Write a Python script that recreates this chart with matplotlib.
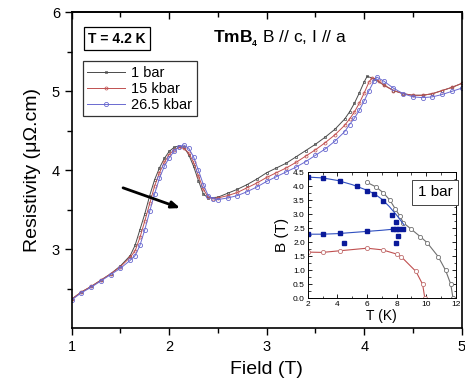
import matplotlib
matplotlib.use('Agg')
import matplotlib.pyplot as plt

plt.rcParams['font.family'] = ['Liberation Sans', 'DejaVu Sans']
plt.rcParams['mathtext.fontset'] = 'custom'
plt.rcParams['mathtext.rm'] = 'Liberation Sans'
plt.rcParams['mathtext.bf'] = 'Liberation Sans:bold'

# main panel: resistivity vs field at 4.2 K
field_1bar = [1.0, 1.1, 1.2, 1.3, 1.4, 1.5, 1.6, 1.65, 1.7, 1.75, 1.8, 1.85, 1.9, 1.95,
              2.0, 2.05, 2.1, 2.15, 2.2, 2.25, 2.3, 2.35, 2.4, 2.5, 2.6, 2.7, 2.8, 2.9,
              3.0, 3.1, 3.2, 3.3, 3.4, 3.5, 3.6, 3.7, 3.8, 3.85, 3.9, 3.95, 4.0, 4.03,
              4.1, 4.2, 4.3, 4.4, 4.5, 4.6, 4.7, 4.8, 4.9, 5.0]
rho_1bar = [2.37, 2.46, 2.53, 2.61, 2.69, 2.79, 2.92, 3.05, 3.25, 3.45, 3.68, 3.88, 4.03, 4.15,
            4.24, 4.29, 4.31, 4.29, 4.20, 4.05, 3.87, 3.70, 3.65, 3.66, 3.71, 3.76, 3.82, 3.89,
            3.97, 4.03, 4.09, 4.17, 4.25, 4.33, 4.42, 4.52, 4.65, 4.74, 4.85, 4.98, 5.12, 5.19,
            5.16, 5.08, 5.01, 4.97, 4.95, 4.95, 4.97, 5.01, 5.05, 5.10]

field_15kbar = [1.0, 1.1, 1.2, 1.3, 1.4, 1.5, 1.6, 1.65, 1.7, 1.75, 1.8, 1.85, 1.9, 1.95,
                2.0, 2.05, 2.1, 2.15, 2.2, 2.25, 2.3, 2.35, 2.4, 2.45, 2.5, 2.6, 2.7, 2.8, 2.9,
                3.0, 3.1, 3.2, 3.3, 3.4, 3.5, 3.6, 3.7, 3.8, 3.85, 3.9, 3.95, 4.0, 4.05, 4.08,
                4.15, 4.2, 4.3, 4.4, 4.5, 4.6, 4.7, 4.8, 4.9, 5.0]
rho_15kbar = [2.37, 2.46, 2.53, 2.61, 2.69, 2.78, 2.90, 2.98, 3.15, 3.36, 3.58, 3.80, 3.97, 4.10,
              4.20, 4.26, 4.29, 4.28, 4.22, 4.10, 3.93, 3.76, 3.66, 3.64, 3.65, 3.68, 3.72, 3.78, 3.84,
              3.91, 3.97, 4.03, 4.10, 4.18, 4.26, 4.35, 4.45, 4.57, 4.65, 4.74, 4.85, 4.98, 5.12, 5.17,
              5.13, 5.08, 5.01, 4.97, 4.95, 4.95, 4.97, 5.01, 5.05, 5.10]

field_26kbar = [1.0, 1.1, 1.2, 1.3, 1.4, 1.5, 1.6, 1.65, 1.7, 1.75, 1.8, 1.85, 1.9, 1.95,
                2.0, 2.05, 2.1, 2.15, 2.2, 2.25, 2.3, 2.35, 2.4, 2.45, 2.5, 2.6, 2.7, 2.8, 2.9,
                3.0, 3.1, 3.2, 3.3, 3.4, 3.5, 3.6, 3.7, 3.8, 3.85, 3.9, 3.95, 4.0, 4.05, 4.1,
                4.13, 4.2, 4.3, 4.4, 4.5, 4.6, 4.7, 4.8, 4.9, 5.0]
rho_26kbar = [2.36, 2.45, 2.52, 2.60, 2.68, 2.76, 2.86, 2.92, 3.05, 3.25, 3.48, 3.70, 3.90, 4.05,
              4.16, 4.24, 4.30, 4.32, 4.28, 4.17, 4.00, 3.82, 3.68, 3.64, 3.63, 3.65, 3.68, 3.73, 3.79,
              3.86, 3.92, 3.98, 4.04, 4.11, 4.19, 4.27, 4.37, 4.49, 4.58, 4.66, 4.76, 4.88, 5.01, 5.13,
              5.18, 5.13, 5.04, 4.97, 4.93, 4.92, 4.93, 4.96, 5.00, 5.04]

# inset: phase diagram at 1 bar
gray_T = [6.0, 6.6, 7.1, 7.55, 7.9, 8.2, 8.45, 9.0, 9.6, 10.05, 10.8, 11.3, 11.65, 11.8]
gray_B = [4.14, 3.98, 3.77, 3.50, 3.20, 2.95, 2.70, 2.46, 2.20, 1.99, 1.49, 1.00, 0.50, 0.0]

red_T = [2.0, 3.0, 4.2, 6.0, 7.05, 8.0, 8.3, 9.3, 9.75, 9.9]
red_B = [1.65, 1.64, 1.70, 1.79, 1.73, 1.58, 1.49, 0.96, 0.50, 0.0]

blue_pts_T = [2.0, 3.0, 4.2, 5.3, 6.0, 6.45, 7.07, 7.67, 7.97,
              2.0, 3.0, 4.2, 6.0, 7.74, 7.97, 8.19, 8.42,
              4.45, 8.08, 7.95]
blue_pts_B = [4.33, 4.28, 4.20, 4.02, 3.85, 3.74, 3.48, 2.98, 2.72,
              2.29, 2.29, 2.33, 2.40, 2.47, 2.47, 2.47, 2.47,
              1.99, 2.22, 1.99]

blue_upper_T = [2.0, 3.0, 4.0, 5.0, 6.0, 6.5, 7.0, 7.5, 8.0, 8.5]
blue_upper_B = [4.33, 4.30, 4.21, 4.06, 3.86, 3.73, 3.54, 3.28, 2.97, 2.62]
blue_mid_T = [2.0, 3.0, 4.0, 5.0, 6.0, 7.0, 8.0, 8.6]
blue_mid_B = [2.29, 2.29, 2.31, 2.35, 2.39, 2.43, 2.48, 2.53]

fig = plt.figure(figsize=(4.65, 3.83), dpi=100)
ax = fig.add_axes([0.1542, 0.1428, 0.8387, 0.825])

ax.plot(field_1bar, rho_1bar, color='#4a4a4a', lw=0.7, marker='s', ms=2.0,
        mfc='none', mew=0.5, label='1 bar')
ax.plot(field_15kbar, rho_15kbar, color='#c05050', lw=0.7, marker='o', ms=2.2,
        mfc='none', mew=0.5, label='15 kbar')
ax.plot(field_26kbar, rho_26kbar, color='#6a6ad0', lw=0.7, marker='o', ms=3.0,
        mfc='none', mew=0.6, label='26.5 kbar')

ax.set_xlim(1, 5)
ax.set_ylim(2, 6)
ax.set_xticks([1, 2, 3, 4, 5])
ax.set_xticks([1.5, 2.5, 3.5, 4.5], minor=True)
ax.set_yticks([3, 4, 5, 6])
ax.set_yticks([2.5, 3.5, 4.5, 5.5], minor=True)
ax.tick_params(which='both', direction='out', top=False, right=False, labelsize=10.5, width=1)
ax.tick_params(which='major', length=5)
ax.tick_params(which='minor', length=3.5)
for sp in ax.spines.values():
    sp.set_linewidth(1.2)

# top axis ticks point inward
top = ax.secondary_xaxis('top')
top.set_xticks([1, 2, 3, 4, 5])
top.set_xticks([1.5, 2.5, 3.5, 4.5], minor=True)
top.tick_params(which='both', direction='in', labeltop=False, width=1)
top.tick_params(which='major', length=5)
top.tick_params(which='minor', length=3.5)
top.spines['top'].set_linewidth(1.2)

ax.set_xlabel('Field (T)', fontsize=14, labelpad=5)
ax.set_ylabel('Resistivity (\u03bc\u03a9.cm)', fontsize=14, labelpad=8)

ax.text(0.116, 0.917, 'T = 4.2 K', transform=ax.transAxes, fontsize=10,
        fontweight='bold', ha='center', va='center',
        bbox=dict(boxstyle='square,pad=0.3', fc='white', ec='black', lw=0.9))
ax.text(0.362, 0.917, r'$\mathbf{TmB_{_4}}$ B // c, I // a', transform=ax.transAxes,
        fontsize=12.5, ha='left', va='center')

leg = ax.legend(loc='upper left', bbox_to_anchor=(0.029, 0.845), fontsize=10.5,
                frameon=True, fancybox=False, edgecolor='black', handlelength=2.6,
                handletextpad=0.4, borderpad=0.3, labelspacing=0.15, borderaxespad=0)
leg.get_frame().set_linewidth(0.9)

ax.annotate('', xy=(2.14, 3.51), xytext=(1.5, 3.79),
            arrowprops=dict(arrowstyle='-|>,head_length=0.5,head_width=0.2',
                            color='black', lw=2))

# inset
ins = fig.add_axes([0.6617, 0.2211, 0.3189, 0.329])
ins.plot(gray_T, gray_B, color='#707070', lw=0.8, marker='o', ms=3, mfc='white', mew=0.6)
ins.plot(red_T, red_B, color='#c05050', lw=0.8, marker='o', ms=3, mfc='white',
         mec='#c07070', mew=0.6)
ins.plot(blue_upper_T, blue_upper_B, color='#3050c0', lw=0.8)
ins.plot(blue_mid_T, blue_mid_B, color='#3050c0', lw=0.8)
ins.plot(blue_pts_T, blue_pts_B, ls='none', marker='s', ms=3, color='#0a1a9a')
ins.set_xlim(2, 12)
ins.set_ylim(0, 4.5)
ins.set_xticks([2, 4, 6, 8, 10, 12])
ins.set_xticks([3, 5, 7, 9, 11], minor=True)
ins.set_yticks([0, 0.5, 1, 1.5, 2, 2.5, 3, 3.5, 4, 4.5])
ins.set_yticks([0.25 + 0.5 * i for i in range(9)], minor=True)
ins.set_yticklabels(['0.0', '0.5', '1.0', '1.5', '2.0', '2.5', '3.0', '3.5', '4.0', '4.5'])
ins.tick_params(which='both', direction='in', top=True, right=True, labelsize=6, pad=2)
ins.tick_params(which='major', length=3, width=0.6)
ins.tick_params(which='minor', length=1.8, width=0.5)
for sp in ins.spines.values():
    sp.set_linewidth(0.7)
ins.set_xlabel('T (K)', fontsize=10, labelpad=1)
ins.set_ylabel('B (T)', fontsize=11, labelpad=3)
ins.text(0.86, 0.84, '1 bar', transform=ins.transAxes, fontsize=11, ha='center',
         va='center', bbox=dict(boxstyle='square,pad=0.35', fc='white', ec='#444444', lw=0.7))

fig.savefig('out.png', dpi=100)
